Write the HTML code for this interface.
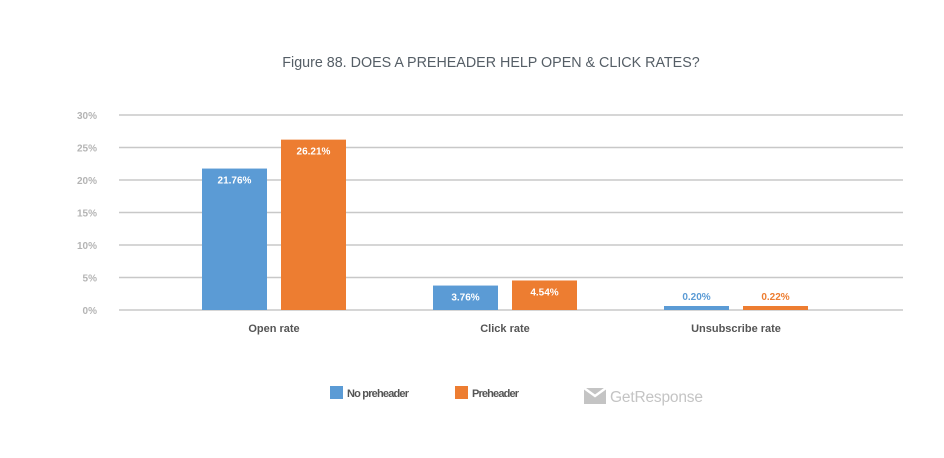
<!DOCTYPE html>
<html><head><meta charset="utf-8"><style>
body{margin:0;background:#fff;width:944px;height:453px;overflow:hidden;font-family:"Liberation Sans",sans-serif}
</style></head><body>
<svg width="944" height="453">
<text x="491" y="67" text-anchor="middle" font-size="14.3" fill="#555e66">Figure 88. DOES A PREHEADER HELP OPEN &amp; CLICK RATES?</text>
<g id="grid"></g><g id="bars"></g>
<g>
<rect x="330" y="386" width="13" height="13" fill="#5b9bd5"/>
<text x="347" y="397" font-size="11" font-weight="bold" fill="#555" textLength="62">No preheader</text>
<rect x="455" y="386" width="13" height="13" fill="#ed7d31"/>
<text x="472" y="397" font-size="11" font-weight="bold" fill="#555" textLength="47">Preheader</text>
</g>
<g>
<path d="M584 388 h22 v16 h-22 z" fill="#c4c4c4"/>
<path d="M584 388 l11 8 l11 -8" stroke="#fff" stroke-width="2.5" fill="none"/>
<text x="610" y="402" font-size="15.5" fill="#c4c4c4" textLength="93">GetResponse</text>
</g>
</svg>
<script>
const categories=["Open rate","Click rate","Unsubscribe rate"];
const noPreheader=[21.76,3.76,0.20];
const preheader=[26.21,4.54,0.22];
const ticks=[0,5,10,15,20,25,30];
const ns="http://www.w3.org/2000/svg";
const y0=310,pxPer=6.5,x0=119,x1=903;
const y=v=>y0-v*pxPer;
const cx=i=>274+i*231;
function mk(tag,attrs,parent){const e=document.createElementNS(ns,tag);for(const k in attrs)e.setAttribute(k,attrs[k]);parent.appendChild(e);return e;}
const grid=document.getElementById('grid'),bars=document.getElementById('bars');
ticks.forEach(t=>{
 const l=mk('line',{x1:x0,x2:x1,y1:y(t),y2:y(t),stroke:'#c8c8c8','stroke-width':1.5},grid);
 
 
 const tx=mk('text',{x:97,y:y(t)+4,'text-anchor':'end','font-size':10,'font-weight':'bold',fill:'#b4b4b4'},grid);
 tx.textContent=t+'%';
 
 
});
const series=[{d:noPreheader,c:'#5b9bd5',off:-72,n:'no-preheader'},{d:preheader,c:'#ed7d31',off:7,n:'preheader'}];
categories.forEach((cat,i)=>{
 series.forEach(s=>{
  const v=s.d[i],bx=cx(i)+s.off,h=Math.max(v*pxPer,4);
  const r=mk('rect',{x:bx,y:y0-h,width:65,height:h,fill:s.c},bars);
  
  
  const inside=h>20;
  const lt=mk('text',{x:bx+32.5,y:inside?y0-h+15:y0-h-6,'text-anchor':'middle','font-size':10,'font-weight':'bold',fill:inside?'#fff':s.c},bars);
  lt.textContent=v.toFixed(2)+'%';
  
  
 });
 const ct=mk('text',{x:cx(i),y:332,'text-anchor':'middle','font-size':11,'font-weight':'bold',fill:'#555'},bars);
 ct.textContent=cat;
 
 
});
</script>
</body></html>
